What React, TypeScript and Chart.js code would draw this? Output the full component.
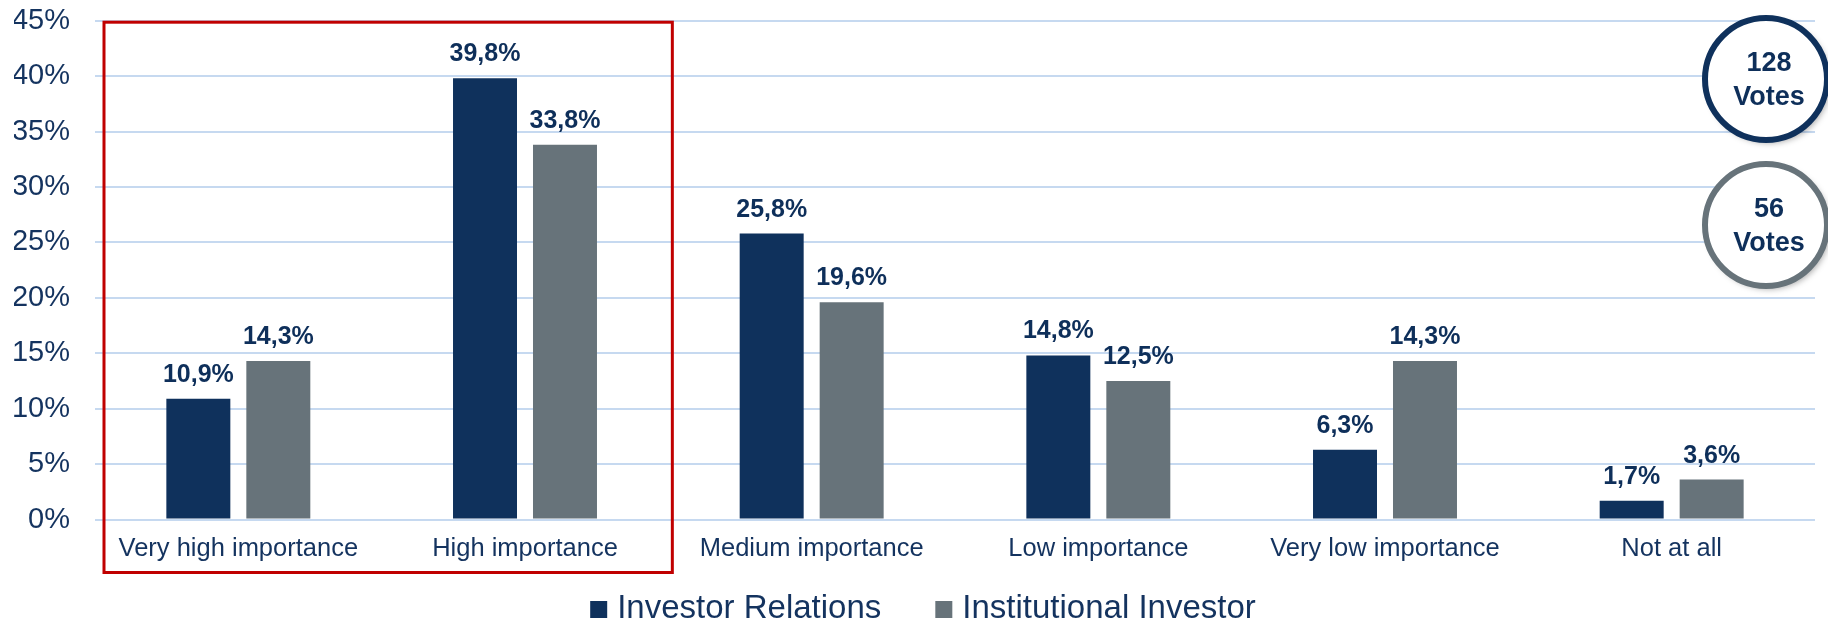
import React, { useEffect, useRef } from 'react';
import { Chart, registerables } from 'chart.js';

Chart.register(...registerables);

const categories = [
  'Very high importance',
  'High importance',
  'Medium importance',
  'Low importance',
  'Very low importance',
  'Not at all',
];
const seriesNames = ['Investor Relations', 'Institutional Investor'];
const investorRelations = [10.9, 39.8, 25.8, 14.8, 6.3, 1.7];
const institutionalInvestor = [14.3, 33.8, 19.6, 12.5, 14.3, 3.6];
const voteCounts = ['128', '56'];
const voteWord = 'Votes';
const yMax = 45;
const yStep = 5;

const NAVY = '#0f315c';
const GRAY = '#67737a';
const TEXT = '#14335f';
const FONT = "'Liberation Sans', Arial, sans-serif";

const fmt = (v: number) => v.toFixed(1).replace('.', ',') + '%';

const valueLabels = {
  id: 'valueLabels',
  afterDatasetsDraw(chart: any) {
    const ctx = chart.ctx;
    ctx.save();
    ctx.font = `bold 25px ${FONT}`;
    ctx.fillStyle = '#0e2f5a';
    ctx.textAlign = 'center';
    ctx.textBaseline = 'alphabetic';
    chart.data.datasets.forEach((ds: any, i: number) => {
      const meta = chart.getDatasetMeta(i);
      meta.data.forEach((bar: any, j: number) => {
        ctx.fillText(fmt(ds.data[j]), bar.x, bar.y - 17);
      });
    });
    ctx.restore();
  },
};

const decorations = {
  id: 'decorations',
  afterDraw(chart: any) {
    const ctx = chart.ctx;
    const x = chart.scales.x;
    const y = chart.scales.y;
    const half = (x.getPixelForValue(1) - x.getPixelForValue(0)) / 2;

    // red highlight box around first two categories
    ctx.save();
    ctx.strokeStyle = '#c00000';
    ctx.lineWidth = 3;
    const l = x.getPixelForValue(0) - half + 9;
    const r = x.getPixelForValue(1) + half + 4;
    const t = y.getPixelForValue(yMax) + 1.5;
    const b = y.getPixelForValue(0) + 53;
    ctx.strokeRect(l, t, r - l, b - t);
    ctx.restore();

    // vote circles
    const cx = chart.width - 62;
    const circles = [
      { cy: 79, color: NAVY, n: voteCounts[0] },
      { cy: 225, color: GRAY, n: voteCounts[1] },
    ];
    circles.forEach((c) => {
      ctx.save();
      ctx.beginPath();
      ctx.arc(cx, c.cy, 61, 0, Math.PI * 2);
      ctx.shadowColor = 'rgba(0,0,0,0.35)';
      ctx.shadowBlur = 6;
      ctx.shadowOffsetX = 3;
      ctx.shadowOffsetY = 3;
      ctx.fillStyle = '#ffffff';
      ctx.fill();
      ctx.shadowColor = 'transparent';
      ctx.lineWidth = 6;
      ctx.strokeStyle = c.color;
      ctx.stroke();
      ctx.fillStyle = '#0e2f5a';
      ctx.font = `bold 27px ${FONT}`;
      ctx.textAlign = 'center';
      ctx.textBaseline = 'middle';
      ctx.fillText(c.n, cx + 3, c.cy - 15);
      ctx.fillText(voteWord, cx + 3, c.cy + 19);
      ctx.restore();
    });

    // legend
    ctx.save();
    ctx.font = `33px ${FONT}`;
    ctx.textBaseline = 'alphabetic';
    ctx.textAlign = 'left';
    const colors = [NAVY, GRAY];
    const box = 17;
    const gapBox = 10;
    const gapItem = 54;
    const widths = seriesNames.map((s) => ctx.measureText(s).width);
    const total = widths.reduce((a, w) => a + box + gapBox + w, 0) + gapItem;
    let lx = chart.width / 2 + 9 - total / 2;
    const baseline = 617.5;
    seriesNames.forEach((s, i) => {
      ctx.fillStyle = colors[i];
      ctx.fillRect(lx, baseline - 16.5, box, box);
      ctx.fillStyle = TEXT;
      ctx.fillText(s, lx + box + gapBox, baseline);
      lx += box + gapBox + widths[i] + gapItem;
    });
    ctx.restore();
  },
};

const zeroPad = (scale: any) => {
  scale.paddingLeft = 0;
  scale.paddingRight = 0;
  scale.paddingTop = 0;
  scale.paddingBottom = 0;
};

export default function App() {
  const ref = useRef<HTMLCanvasElement>(null);

  useEffect(() => {
    if (!ref.current) return;
    const chart = new Chart(ref.current, {
      type: 'bar',
      data: {
        labels: categories,
        datasets: [
          {
            label: seriesNames[0],
            data: investorRelations,
            backgroundColor: NAVY,
            categoryPercentage: 0.558,
            barPercentage: 0.8,
          },
          {
            label: seriesNames[1],
            data: institutionalInvestor,
            backgroundColor: GRAY,
            categoryPercentage: 0.558,
            barPercentage: 0.8,
          },
        ],
      },
      options: {
        animation: false,
        responsive: true,
        maintainAspectRatio: false,
        layout: { padding: { top: 20.7, left: 14, right: 13, bottom: 57.5 } },
        plugins: {
          legend: { display: false },
          tooltip: { enabled: false },
          title: { display: false },
        },
        scales: {
          x: {
            grid: { display: false, drawTicks: false },
            border: { display: false },
            ticks: {
              color: TEXT,
              font: { family: FONT, size: 25.5 },
              padding: 14,
              maxRotation: 0,
              autoSkip: false,
            },
            afterFit: (scale: any) => {
              scale.height = 45;
              zeroPad(scale);
            },
          },
          y: {
            min: 0,
            max: yMax,
            grid: { color: '#c6d9f0', lineWidth: 2, drawTicks: false },
            border: { display: false },
            ticks: {
              stepSize: yStep,
              color: TEXT,
              font: { family: FONT, size: 29 },
              padding: 25,
              callback: (v: any) => v + '%',
            },
            afterFit: (scale: any) => {
              scale.width = 81;
              zeroPad(scale);
            },
          },
        },
      },
      plugins: [valueLabels, decorations],
    });
    return () => chart.destroy();
  }, []);

  return (
    <div style={{ position: 'fixed', left: 0, top: 0, width: 1828, height: 622, background: '#fff' }}>
      <canvas ref={ref} />
    </div>
  );
}
